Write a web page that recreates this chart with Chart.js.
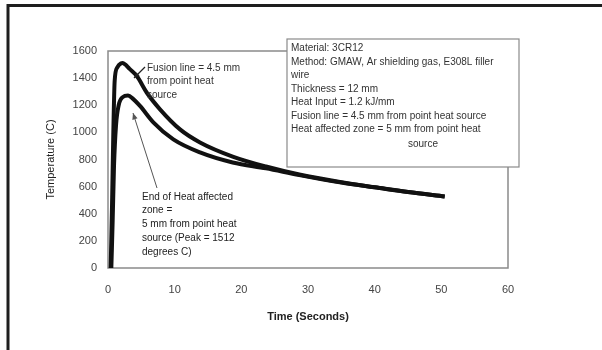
<!DOCTYPE html>
<html>
<head>
<meta charset="utf-8">
<script src="https://cdn.jsdelivr.net/npm/chart.js@4"></script>
<style>
  html, body { margin: 0; padding: 0; background: #fff; }
  #wrap { position: relative; width: 602px; height: 350px; }
</style>
</head>
<body>
<div id="wrap"><canvas id="heatChart" width="602" height="350"></canvas></div>
<script>
// time (s) and temperature (C)
const fusionTime = [0.4, 0.6, 0.8, 1.0, 1.4, 2.0, 2.2, 2.6, 3.2, 4.3, 5.8, 7.8, 10.8, 13.8, 18.7, 23.7, 28.7, 35, 40, 45, 50.5];
const fusionTemp = [0, 450, 1000, 1380, 1480, 1510, 1512, 1500, 1470, 1417, 1294, 1170, 1022, 926, 822, 748, 689, 632, 595, 560, 528];

const hazTime = [0.5, 0.7, 0.9, 1.2, 1.6, 2.2, 3.0, 3.8, 4.8, 6.8, 9.8, 13.8, 18.7, 23.7, 28.7, 35, 40, 45, 50.5];
const hazTemp = [0, 350, 750, 1050, 1200, 1260, 1272, 1245, 1195, 1074, 948, 852, 778, 735, 685, 630, 595, 560, 528];

const xTicks = [0, 10, 20, 30, 40, 50, 60];
const yTicks = [0, 200, 400, 600, 800, 1000, 1200, 1400, 1600];

const infoLines = [
    'Material: 3CR12',
    'Method: GMAW, Ar shielding gas, E308L filler',
    'wire',
    'Thickness = 12 mm',
    'Heat Input = 1.2 kJ/mm',
    'Fusion line = 4.5 mm from point heat source',
    'Heat affected zone = 5 mm from point heat'
];
const infoLast = 'source';
const fusionNote = ['Fusion line = 4.5 mm', 'from point heat', 'source'];
const hazNote = ['End of Heat affected', 'zone =', '5 mm from point heat', 'source (Peak = 1512', 'degrees C)'];

const FONT = "'Liberation Sans', Arial, sans-serif";
const INK = '#111';
const TXT = '#333';
const FRAME = '#8a8a8a';

const toPts = (xs, ys) => xs.map((x, i) => ({ x: x, y: ys[i] }));

function arrow(ctx, x1, y1, x2, y2, head, width, color) {
    const a = Math.atan2(y2 - y1, x2 - x1);
    ctx.strokeStyle = color;
    ctx.fillStyle = color;
    ctx.lineWidth = width;
    ctx.beginPath();
    ctx.moveTo(x1, y1);
    ctx.lineTo(x2, y2);
    ctx.stroke();
    ctx.beginPath();
    ctx.moveTo(x2, y2);
    ctx.lineTo(x2 - head * Math.cos(a - 0.4), y2 - head * Math.sin(a - 0.4));
    ctx.lineTo(x2 - head * Math.cos(a + 0.4), y2 - head * Math.sin(a + 0.4));
    ctx.closePath();
    ctx.fill();
}

const decor = {
    id: 'decor',
    beforeDatasetsDraw(chart) {
        const { ctx, chartArea: a } = chart;
        ctx.save();
        ctx.strokeStyle = FRAME;
        ctx.lineWidth = 1.5;
        ctx.strokeRect(a.left, a.top, a.right - a.left, a.bottom - a.top);
        ctx.restore();
    },
    afterDraw(chart) {
        const { ctx, chartArea: a } = chart;
        ctx.save();

        // outer frame of the scanned figure (top and left only)
        ctx.strokeStyle = '#1e1e1e';
        ctx.lineWidth = 3;
        ctx.beginPath();
        ctx.moveTo(602, 5.5);
        ctx.lineTo(8, 5.5);
        ctx.lineTo(8, 350);
        ctx.stroke();

        // info box
        const bx = a.left + 179, by = a.top - 12, bw = 232, bh = 128;
        ctx.fillStyle = '#fff';
        ctx.fillRect(bx, by, bw, bh);
        ctx.strokeStyle = FRAME;
        ctx.lineWidth = 1.2;
        ctx.strokeRect(bx, by, bw, bh);
        ctx.font = '10px ' + FONT;
        ctx.fillStyle = TXT;
        ctx.textBaseline = 'middle';
        ctx.textAlign = 'left';
        infoLines.forEach((s, i) => ctx.fillText(s, bx + 4, by + 9.5 + i * 13.5));
        ctx.textAlign = 'center';
        ctx.fillText(infoLast, bx + 136, by + 9.5 + infoLines.length * 13.5 + 1);

        // fusion line note
        ctx.textAlign = 'left';
        fusionNote.forEach((s, i) => ctx.fillText(s, a.left + 39, a.top + 17 + i * 13.5));
        arrow(ctx, a.left + 37, a.top + 16, a.left + 26, a.top + 27, 6, 1.2, '#222');

        // heat affected zone note
        hazNote.forEach((s, i) => ctx.fillText(s, a.left + 34, a.top + 146 + i * 13.7));
        arrow(ctx, a.left + 49, a.top + 137, a.left + 25, a.top + 62, 7, 1, '#555');

        ctx.restore();
    }
};

new Chart(document.getElementById('heatChart'), {
    type: 'line',
    data: {
        datasets: [
            {
                label: 'Fusion line',
                data: toPts(fusionTime, fusionTemp),
                borderColor: INK,
                borderWidth: 4,
                pointRadius: 0,
                cubicInterpolationMode: 'monotone',
                fill: false
            },
            {
                label: 'Heat affected zone',
                data: toPts(hazTime, hazTemp),
                borderColor: INK,
                borderWidth: 4,
                pointRadius: 0,
                cubicInterpolationMode: 'monotone',
                fill: false
            }
        ]
    },
    options: {
        responsive: false,
        animation: false,
        events: [],
        layout: { padding: { left: 0, top: 51, right: 94, bottom: 0 } },
        plugins: { legend: { display: false }, tooltip: { enabled: false } },
        scales: {
            x: {
                type: 'linear',
                min: 0, max: 60,
                afterFit: s => { s.height = 82; },
                afterBuildTicks: s => { s.ticks = xTicks.map(v => ({ value: v })); },
                grid: { display: false, drawTicks: false },
                border: { display: false },
                ticks: { color: '#444', padding: 15, font: { family: FONT, size: 11 }, callback: v => String(v) },
                title: {
                    display: true, text: 'Time (Seconds)', color: '#222',
                    padding: { top: 0, bottom: 26 },
                    font: { family: FONT, size: 11, weight: 'bold' }
                }
            },
            y: {
                min: 0, max: 1600,
                afterFit: s => { s.width = 108; },
                afterBuildTicks: s => { s.ticks = yTicks.map(v => ({ value: v })); },
                grid: { display: false, drawTicks: false },
                border: { display: false },
                ticks: { color: '#444', padding: 11, font: { family: FONT, size: 11 }, callback: v => String(v) },
                title: {
                    display: true, text: 'Temperature (C)', color: '#222',
                    padding: { top: 44, bottom: 0 },
                    font: { family: FONT, size: 11 }
                }
            }
        }
    },
    plugins: [decor]
});
</script>
</body>
</html>
